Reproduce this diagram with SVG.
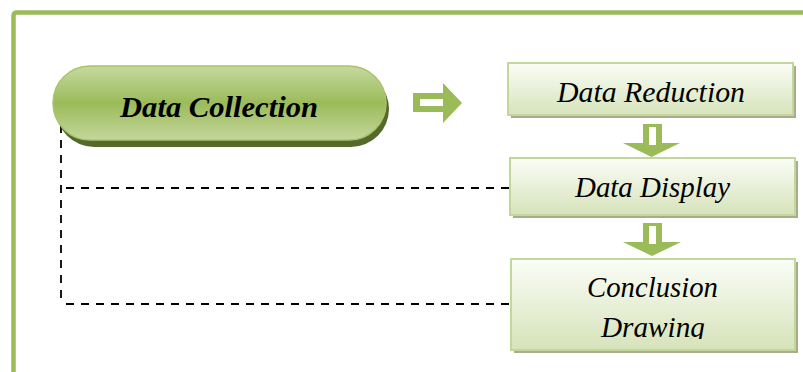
<svg xmlns="http://www.w3.org/2000/svg" width="803" height="372" viewBox="0 0 803 372">
<defs>
<linearGradient id="pillG" x1="0" y1="0" x2="0" y2="1">
<stop offset="0" stop-color="#C6D9A0"/>
<stop offset="0.5" stop-color="#9BBB59"/>
<stop offset="1" stop-color="#C3D79B"/>
</linearGradient>
<linearGradient id="boxG" x1="0" y1="0" x2="0" y2="1">
<stop offset="0" stop-color="#FBFDF7"/>
<stop offset="1" stop-color="#D6E3BA"/>
</linearGradient>
<clipPath id="clipC"><rect x="500" y="250" width="300" height="89"/></clipPath>
<style>
.box{fill:url(#boxG);stroke:#C3D69B;stroke-width:2}
.shadow{fill:#A5AD8C}
.lbl{font-family:"Liberation Serif",serif;font-style:italic;font-size:29px;fill:#000;text-anchor:middle}
.arr{fill:#9BBB59}
.hole{fill:#fff}
.dash{fill:none;stroke:#000;stroke-width:1.8;stroke-dasharray:8 7}
</style>
</defs>
<rect width="803" height="372" fill="#fff"/>
<path d="M13.5,372 V16 Q13.5,12.5 17,12.5 H803" fill="none" stroke="#9BBB59" stroke-width="4.5"/>
<g id="connectors">
<path class="dash" d="M61,125 V304" stroke-dasharray="7 7"/>
<path class="dash" d="M66,188 H510"/>
<path class="dash" d="M66,304 H511"/>
<g id="arrow-right">
<polygon class="arr" points="413,93 443,93 443,83 462,103 443,123 443,112 413,112"/>
<rect class="hole" x="420" y="99" width="23" height="7"/>
</g>
<g id="arrow-down-1">
<polygon class="arr" points="643,124 662,124 662,143 680,143 651.5,157 623,143 643,143"/>
<rect class="hole" x="649" y="127" width="7" height="18"/>
</g>
<g id="arrow-down-2">
<polygon class="arr" points="643,223 662,223 662,242 681,242 652,256 623,242 643,242"/>
<rect class="hole" x="649" y="226" width="7" height="18"/>
</g>
</g>
<g id="data-collection">
<rect x="56" y="71" width="333" height="76" rx="38" fill="#55692C"/>
<rect x="53" y="66" width="333" height="74" rx="37" fill="url(#pillG)" stroke="#A9C46C" stroke-width="1.5"/>
<text x="219" y="117" font-family="'Liberation Serif',serif" font-style="italic" font-weight="bold" font-size="30" text-anchor="middle" textLength="198" lengthAdjust="spacingAndGlyphs">Data Collection</text>
</g>
<g id="data-reduction">
<rect class="shadow" x="511" y="66" width="285" height="52"/>
<rect class="box" x="508" y="63" width="285" height="52"/>
<text class="lbl" x="651" y="102" textLength="188" lengthAdjust="spacingAndGlyphs">Data Reduction</text>
</g>
<g id="data-display">
<rect class="shadow" x="513" y="161" width="285" height="57"/>
<rect class="box" x="510" y="158" width="285" height="57"/>
<text class="lbl" x="652.5" y="197" textLength="155" lengthAdjust="spacingAndGlyphs">Data Display</text>
</g>
<g id="conclusion-drawing">
<rect class="shadow" x="514" y="262" width="284" height="91"/>
<rect class="box" x="511" y="259" width="284" height="91"/>
<g clip-path="url(#clipC)">
<text class="lbl" x="652.5" y="297" textLength="131" lengthAdjust="spacingAndGlyphs">Conclusion</text>
<text class="lbl" x="653" y="337" textLength="104" lengthAdjust="spacingAndGlyphs">Drawing</text>
</g>
</g>
</svg>
